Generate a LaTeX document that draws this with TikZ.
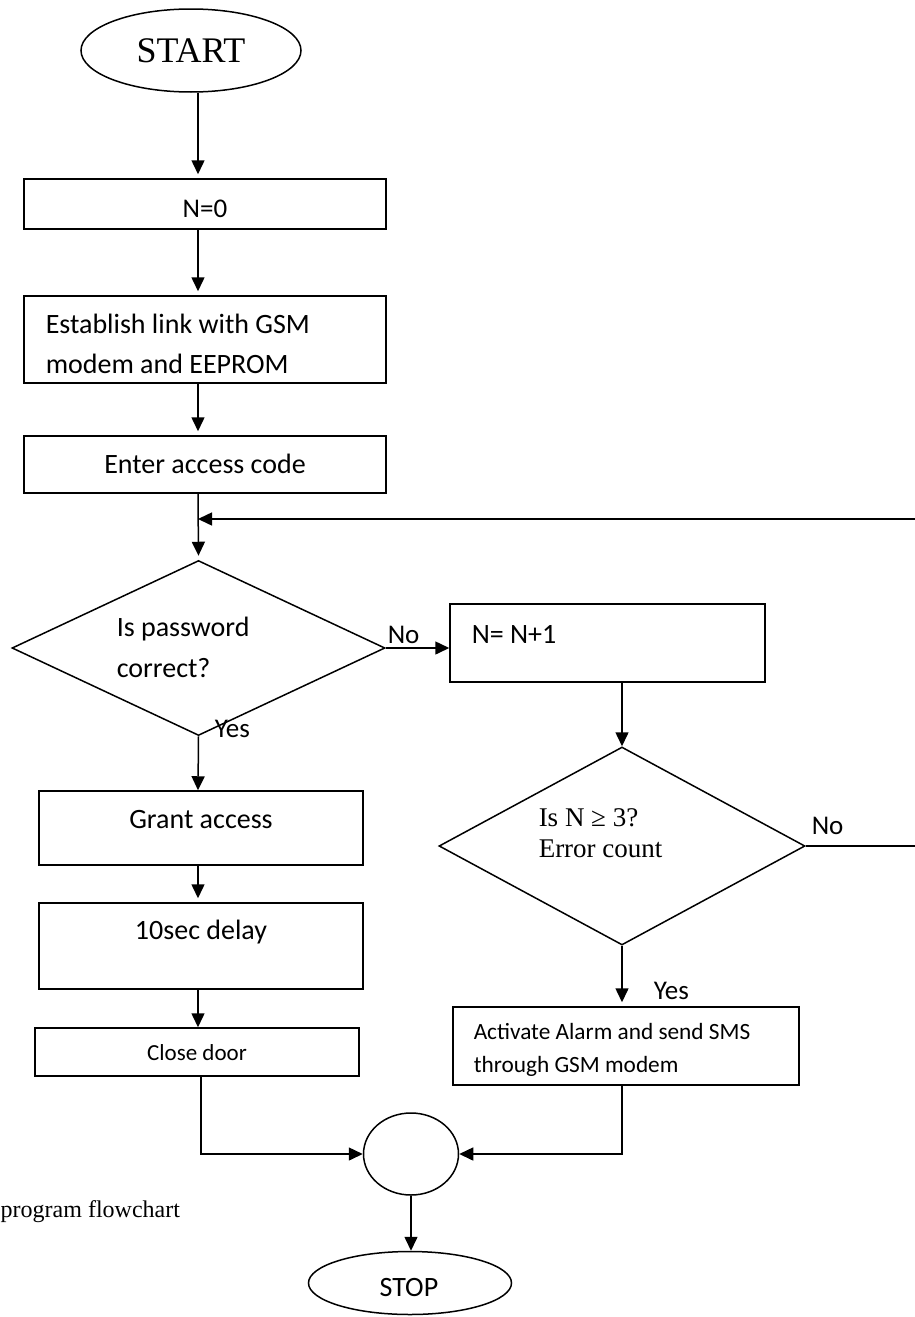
\documentclass[tikz,border=0pt]{standalone}
\usepackage{fontspec}
\setmainfont{Carlito}
\newfontfamily\tms{Liberation Serif}
\usetikzlibrary{shapes.geometric,arrows.meta}
\newcommand\szA{\fontsize{28}{34}\selectfont}
\newcommand\szB{\fontsize{27}{32}\selectfont}
\newcommand\szC{\fontsize{23}{28}\selectfont}
\newcommand\szD{\fontsize{23.3}{28}\selectfont}
\newcommand\szE{\fontsize{27}{32}\selectfont}
\begin{document}
\begin{tikzpicture}[x=1pt,y=-1pt,line width=1.5pt,
  box/.style={draw,rectangle,inner sep=0pt},
  term/.style={draw,ellipse,inner sep=0pt},
  decision/.style={draw,diamond,inner sep=0pt},
  lt/.style={inner sep=0pt,anchor=base west},
  ct/.style={inner sep=0pt,anchor=base},
  arr/.style={-{Triangle[width=13pt,length=14pt]}},
  gap/.style={shorten >=4pt}]
\useasboundingbox (0,0) rectangle (915,1317);
% nodes
\node[term,minimum width=220,minimum height=83] (start) at (191,50.5) {};
\node[ct,font=\tms\fontsize{36}{40}\selectfont] (starttxt) at (191,62) {START};
\node[box,minimum width=362,minimum height=50] (n0) at (205,204) {};
\node[ct,font=\szB] (n0txt) at (205,217) {N=0};
\node[box,minimum width=362,minimum height=87] (est) at (205,339.5) {};
\node[lt,font=\szA] (est1) at (45,333) {Establish link with GSM};
\node[lt,font=\szA] (est2) at (45,373) {modem and EEPROM};
\node[box,minimum width=362,minimum height=57] (enter) at (205,464.5) {};
\node[ct,font=\szA] (entertxt) at (205,473) {Enter access code};
\node[decision,minimum width=373,minimum height=175] (d1) at (198.5,648) {};
\node[lt,font=\szA] (d1a) at (116,636) {Is password};
\node[lt,font=\szA] (d1b) at (116,677) {correct?};
\node[lt,font=\szE] (no1) at (387,643) {No};
\node[lt,font=\szE] (yes1) at (214,737) {Yes};
\node[box,minimum width=315,minimum height=78] (nn1) at (607.5,643) {};
\node[lt,font=\szA] (nn1txt) at (471,643) {N= N+1};
\node[decision,minimum width=366,minimum height=198] (d2) at (622,846) {};
\node[lt,font=\tms\fontsize{27}{32}\selectfont] (d2a) at (538,826) {Is N ≥ 3?};
\node[lt,font=\tms\fontsize{27}{32}\selectfont] (d2b) at (538,857) {Error count};
\node[lt,font=\szE] (no2) at (811,834) {No};
\node[lt,font=\szE] (yes2) at (653,999) {Yes};
\node[box,minimum width=346,minimum height=78] (alarm) at (626,1046) {};
\node[lt,font=\szD] (al1) at (473,1039) {Activate Alarm and send SMS};
\node[lt,font=\szD] (al2) at (473,1072) {through GSM modem};
\node[box,minimum width=324,minimum height=74] (grant) at (201,828) {};
\node[ct,font=\szA] (granttxt) at (201,828) {Grant access};
\node[box,minimum width=324,minimum height=86] (delay) at (201,946) {};
\node[ct,font=\szA] (delaytxt) at (201,939) {10sec delay};
\node[box,minimum width=324,minimum height=48] (close) at (197,1052) {};
\node[ct,font=\szC] (closetxt) at (197,1060) {Close door};
\node[term,minimum width=95,minimum height=82] (circ) at (411,1154) {};
\node[term,minimum width=203,minimum height=63] (stop) at (410,1283) {};
\node[ct,font=\szA] (stoptxt) at (409,1296) {STOP};
\node[lt,font=\tms\fontsize{24}{29}\selectfont] (cap) at (0,1217) {program flowchart};
% helper coordinates
\coordinate (ax) at (198,0);
\coordinate (cx) at (201,0);
\coordinate (loopend) at (198,519);
\coordinate (edge1) at (915,519);
\coordinate (edge2) at (915,846);
% connectors
\draw[arr,gap] (ax |- start.south) -- (ax |- n0.north);
\draw[arr,gap] (ax |- n0.south) -- (ax |- est.north);
\draw[arr,gap] (ax |- est.south) -- (ax |- enter.north);
\draw[arr,gap] (ax |- enter.south) -- (d1.north);
\draw[arr] (edge1) -- (loopend);
\draw[arr] (d1.east) -- (d1.east -| nn1.west);
\draw[arr] (d1.south) -- (ax |- grant.north);
\draw[arr,gap] (ax |- grant.south) -- (ax |- delay.north);
\draw[arr] (ax |- delay.south) -- (ax |- close.north);
\draw[arr] (d2.north |- nn1.south) -- (d2.north);
\draw (d2.east) -- (edge2);
\draw[arr,gap] (d2.south) -- (d2.south |- alarm.north);
\draw[arr] (d2.south |- alarm.south) |- (circ.east);
\draw[arr] (cx |- close.south) |- (circ.west);
\draw[arr] (circ.south) -- (circ.south |- stop.north);
\end{tikzpicture}
\end{document}
